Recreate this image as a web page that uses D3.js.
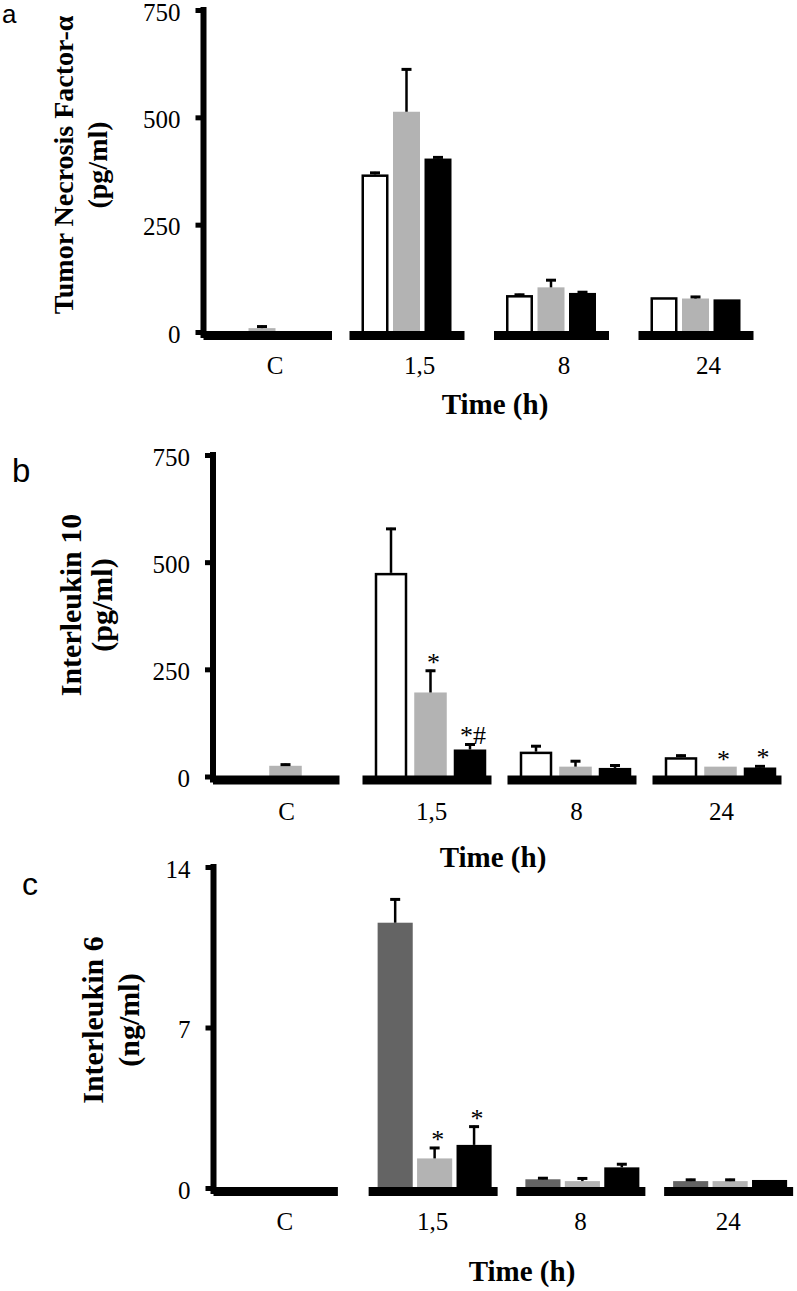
<!DOCTYPE html>
<html>
<head>
<meta charset="utf-8">
<script src="https://cdn.jsdelivr.net/npm/d3@7"></script>
<style>
  body { margin: 0; background: #fff; }
  text { font-family: 'Liberation Serif', 'Times New Roman', serif; fill: #000; }
</style>
</head>
<body>
<div id="chart"></div>
<script>
const groups = ['C', '1,5', '8', '24'];

// a: TNF-alpha (pg/ml)
const tnfWhite = [0, 367, 86, 81];
const tnfWhiteErr = [0, 6, 3, 0];
const tnfGray = [9, 513, 104, 78];
const tnfGrayErr = [6, 101, 19, 6];
const tnfBlack = [0, 404, 91, 76];
const tnfBlackErr = [0, 5, 4, 0];
const tnfTicks = [0, 250, 500, 750];

// b: IL-10 (pg/ml)
const il10White = [0, 475, 58, 45];
const il10WhiteErr = [0, 105, 15, 6];
const il10Gray = [25, 196, 23, 23];
const il10GrayErr = [5, 53, 15, 0];
const il10Black = [0, 63, 20, 21];
const il10BlackErr = [0, 14, 8, 5];
const il10GrayMarks = ['', '*', '', '*'];
const il10BlackMarks = ['', '*#', '', '*'];
const il10Ticks = [0, 250, 500, 750];

// c: IL-6 (ng/ml)
const il6Dark = [0, 11.57, 0.38, 0.3];
const il6DarkErr = [0, 1.06, 0.09, 0.1];
const il6Light = [0.02, 1.29, 0.3, 0.3];
const il6LightErr = [0, 0.5, 0.16, 0.1];
const il6Black = [0, 1.88, 0.9, 0.35];
const il6BlackErr = [0, 0.84, 0.18, 0];
const il6LightMarks = ['', '*', '', ''];
const il6BlackMarks = ['', '*', '', ''];
const il6Ticks = [0, 7, 14];

const noMarks = ['', '', '', ''];
const gray = '#b3b3b3';
const darkGray = '#646464';

const svg = d3.select('#chart')
  .append('svg')
  .attr('width', 797)
  .attr('height', 1291);

const panels = [
  {
    letter: 'a', letterX: 2, letterY: 23, letterSize: 26,
    axisX: 203.5, y0: 332, yTop: 10, yMax: 750, ticks: tnfTicks,
    x0: 189.75, x1: 767.75, span: 90, pad: 0.143, labelShift: 13, catY: 374,
    segL: 57, segR: 58, segCR: 70,
    title: ['Tumor Necrosis Factor-α', '(pg/ml)'], titleX: [73, 107], titleY: 165, titleSize: 28,
    timeX: 495, timeY: 414,
    series: [
      {fill: '#fff', stroke: '#000', values: tnfWhite, errors: tnfWhiteErr, marks: noMarks},
      {fill: gray, stroke: 'none', values: tnfGray, errors: tnfGrayErr, marks: noMarks},
      {fill: '#000', stroke: 'none', values: tnfBlack, errors: tnfBlackErr, marks: noMarks}
    ]
  },
  {
    letter: 'b', letterX: 12, letterY: 482, letterSize: 33,
    axisX: 213, y0: 776.5, yTop: 455, yMax: 750, ticks: il10Ticks,
    x0: 213, x1: 793, span: 111.5, pad: 0.177, labelShift: 1, catY: 820,
    segL: 68, segR: 61, segCR: 54,
    title: ['Interleukin 10', '(pg/ml)'], titleX: [81, 112], titleY: 605, titleSize: 30,
    timeX: 493, timeY: 867,
    series: [
      {fill: '#fff', stroke: '#000', values: il10White, errors: il10WhiteErr, marks: noMarks},
      {fill: gray, stroke: 'none', values: il10Gray, errors: il10GrayErr, marks: il10GrayMarks},
      {fill: '#000', stroke: 'none', values: il10Black, errors: il10BlackErr, marks: il10BlackMarks}
    ]
  },
  {
    letter: 'c', letterX: 22, letterY: 895, letterSize: 32,
    axisX: 213.5, y0: 1188, yTop: 867, yMax: 14, ticks: il6Ticks,
    x0: 213, x1: 804, span: 114, pad: 0.11, labelShift: -2, catY: 1230,
    segL: 66, segR: 63, segCR: 51,
    title: ['Interleukin 6', '(ng/ml)'], titleX: [103, 139], titleY: 1020, titleSize: 30,
    timeX: 522, timeY: 1281,
    series: [
      {fill: darkGray, stroke: 'none', values: il6Dark, errors: il6DarkErr, marks: noMarks},
      {fill: gray, stroke: 'none', values: il6Light, errors: il6LightErr, marks: il6LightMarks},
      {fill: '#000', stroke: 'none', values: il6Black, errors: il6BlackErr, marks: il6BlackMarks}
    ]
  }
];

panels.forEach(drawPanel);

function drawPanel(p) {
  const g = svg.append('g');

  const yScale = d3.scaleLinear()
    .domain([0, p.yMax])
    .range([p.y0, p.yTop]);

  const xScale = d3.scaleBand()
    .domain(groups)
    .range([p.x0, p.x1]);

  const inner = d3.scaleBand()
    .domain(d3.range(p.series.length))
    .range([-p.span / 2, p.span / 2])
    .paddingInner(p.pad);

  const center = (grp) => xScale(grp) + xScale.bandwidth() / 2;

  // bars
  p.series.forEach((s, si) => {
    const rows = groups.map((grp, i) => ({grp: grp, v: s.values[i], e: s.errors[i], m: s.marks[i]}));
    const inset = s.stroke !== 'none' ? 1.25 : 0;

    g.selectAll(null)
      .data(rows.filter((d) => d.v > 0))
      .enter()
      .append('rect')
      .attr('x', (d) => center(d.grp) + inner(si) + inset)
      .attr('y', (d) => yScale(d.v) + inset)
      .attr('width', inner.bandwidth() - 2 * inset)
      .attr('height', (d) => p.y0 - yScale(d.v))
      .attr('fill', s.fill)
      .attr('stroke', s.stroke)
      .attr('stroke-width', 2.5);

    // error bars (upper only)
    const errRows = rows.filter((d) => d.e > 0);
    const ex = (d) => center(d.grp) + inner(si) + inner.bandwidth() / 2;
    g.selectAll(null)
      .data(errRows)
      .enter()
      .append('line')
      .attr('x1', ex)
      .attr('x2', ex)
      .attr('y1', (d) => yScale(d.v))
      .attr('y2', (d) => yScale(d.v + d.e))
      .attr('stroke', '#000')
      .attr('stroke-width', 2.5);
    g.selectAll(null)
      .data(errRows)
      .enter()
      .append('line')
      .attr('x1', (d) => ex(d) - 5)
      .attr('x2', (d) => ex(d) + 5)
      .attr('y1', (d) => yScale(d.v + d.e) + 1)
      .attr('y2', (d) => yScale(d.v + d.e) + 1)
      .attr('stroke', '#000')
      .attr('stroke-width', 3);

    // significance marks
    g.selectAll(null)
      .data(rows.filter((d) => d.m))
      .enter()
      .append('text')
      .attr('x', (d) => ex(d) + 3)
      .attr('y', (d) => yScale(d.v + d.e) + 1)
      .attr('text-anchor', 'middle')
      .style('font-size', '26px')
      .text((d) => d.m);
  });

  // thick baseline pieces under every group
  g.selectAll(null)
    .data(groups)
    .enter()
    .append('rect')
    .attr('x', (d, i) => i === 0 ? p.axisX : center(d) - p.segL)
    .attr('width', (d, i) => i === 0 ? center(d) + p.segCR - p.axisX : p.segL + p.segR)
    .attr('y', p.y0 - 1)
    .attr('height', 9)
    .attr('fill', '#000');

  // y-axis
  g.append('line')
    .attr('x1', p.axisX)
    .attr('x2', p.axisX)
    .attr('y1', yScale(p.yMax) - 3)
    .attr('y2', p.y0 + 6)
    .attr('stroke', '#000')
    .attr('stroke-width', 6);

  const axis = g.append('g')
    .attr('transform', 'translate(' + p.axisX + ',0)')
    .call(d3.axisLeft(yScale).tickValues(p.ticks).tickSize(8).tickPadding(15))
    .attr('font-family', "'Liberation Serif', serif");
  axis.select('.domain').remove();
  axis.selectAll('.tick line').attr('stroke-width', 5);
  axis.selectAll('.tick text')
    .attr('fill', '#000')
    .attr('dy', '0.4em')
    .style('font-family', "'Liberation Serif', serif")
    .style('font-size', '25px');

  // category labels
  g.selectAll(null)
    .data(groups)
    .enter()
    .append('text')
    .attr('x', (d) => center(d) + p.labelShift)
    .attr('y', p.catY)
    .attr('text-anchor', 'middle')
    .style('font-size', '25px')
    .text((d) => d);

  // x-axis title
  g.append('text')
    .attr('x', p.timeX)
    .attr('y', p.timeY)
    .attr('text-anchor', 'middle')
    .style('font-size', '29px')
    .style('font-weight', 'bold')
    .text('Time (h)');

  // y-axis title
  p.title.forEach((t, i) => {
    g.append('text')
      .attr('text-anchor', 'middle')
      .attr('transform', 'translate(' + p.titleX[i] + ',' + p.titleY + ')rotate(-90)')
      .style('font-size', p.titleSize + 'px')
      .style('font-weight', 'bold')
      .text(t);
  });

  // panel letter
  g.append('text')
    .attr('x', p.letterX)
    .attr('y', p.letterY)
    .style('font-family', "'Liberation Sans', Arial, sans-serif")
    .style('font-size', p.letterSize + 'px')
    .text(p.letter);
}
</script>
</body>
</html>
